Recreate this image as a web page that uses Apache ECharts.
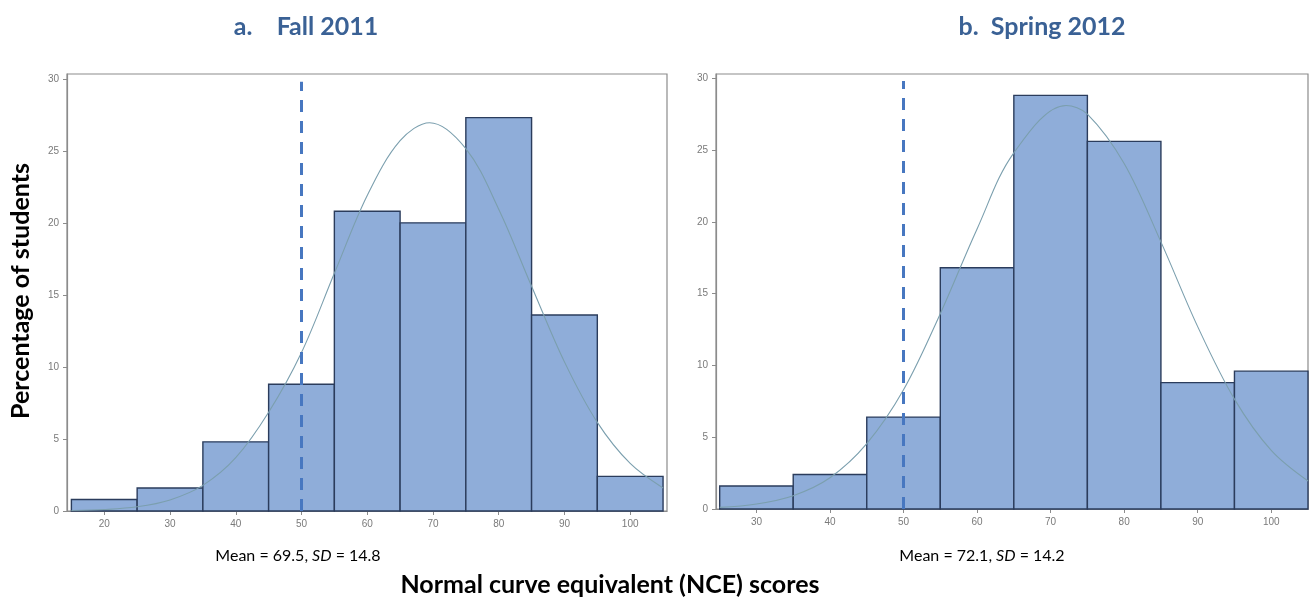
<!DOCTYPE html>
<html>
<head>
<meta charset="utf-8">
<script src="https://cdn.jsdelivr.net/npm/echarts@6/dist/echarts.min.js"></script>
<style>
html,body{margin:0;padding:0;background:#fff;}
#chart{width:1309px;height:608px;}
</style>
</head>
<body>
<div id="chart"></div>
<script>
// ---- Data ----
const titleA = 'a.    Fall 2011';
const titleB = 'b.  Spring 2012';
const yAxisTitle = 'Percentage of students';
const xAxisTitle = 'Normal curve equivalent (NCE) scores';
const statsA = ['Mean = 69.5, ', 'SD', ' = 14.8'];
const statsB = ['Mean = 72.1, ', 'SD', ' = 14.2'];

const binWidth = 10;
const binStartsA = [15, 25, 35, 45, 55, 65, 75, 85, 95];
const percentA   = [0.8, 1.6, 4.8, 8.8, 20.8, 20.0, 27.3, 13.6, 2.4];
const binStartsB = [25, 35, 45, 55, 65, 75, 85, 95];
const percentB   = [1.6, 2.4, 6.4, 16.8, 28.8, 25.6, 8.8, 9.6];

// normal curve readings (x, percent)
const curveXA = [15, 20, 25, 30, 35, 40, 45, 50, 55, 60, 65, 69.5, 75, 80, 85, 90, 95, 100, 105];
const curveYA = [0.03, 0.10, 0.29, 0.77, 1.78, 3.70, 6.85, 11.0, 16.5, 21.9, 25.7, 26.95, 25.15, 20.95, 15.6, 10.35, 6.15, 3.3, 1.6];
const curveXB = [25, 30, 35, 40, 45, 50, 55, 60, 65, 72.1, 75, 80, 85, 90, 95, 100, 105];
const curveYB = [0.11, 0.35, 0.93, 2.18, 4.55, 8.3, 13.6, 19.5, 24.8, 28.1, 27.5, 24.06, 18.6, 12.7, 7.65, 4.08, 1.95];

const refLineX = 50;          // dashed reference line (NCE = 50)
const refLineTop = 29.8;
const yTicks = [0, 5, 10, 15, 20, 25, 30];
const xTicksA = [20, 30, 40, 50, 60, 70, 80, 90, 100];
const xTicksB = [30, 40, 50, 60, 70, 80, 90, 100];

// ---- Styles ----
const barFill = '#8fadd9';
const barEdge = '#2b3c5c';
const curveColor = '#7b9fae';
const dashColor = '#4777c0';
const titleColor = '#3a6195';
const tickLabel = {color: '#7a7a7a', fontSize: 10, fontFamily: 'Liberation Sans'};
const axisLine = {show: true, lineStyle: {color: '#8c8c8c', width: 1.2}};

function pairs(xs, ys){ return xs.map((x,i)=>[x, ys[i]]); }
function bins(starts, vals){ return starts.map((s,i)=>[s, s+binWidth, vals[i]]); }

function histSeries(idx, data){
  return {
    type: 'custom', xAxisIndex: idx, yAxisIndex: idx, data: data,
    renderItem: function(params, api){
      const p0 = api.coord([api.value(0), api.value(2)]);
      const p1 = api.coord([api.value(1), 0]);
      return {type: 'rect', shape: {x: p0[0], y: p0[1], width: p1[0]-p0[0], height: p1[1]-p0[1]},
        style: {fill: barFill, stroke: barEdge, lineWidth: 1.4}};
    },
    encode: {x: [0, 1], y: 2}, z: 2
  };
}
function curveSeries(idx, data){
  return {type: 'line', xAxisIndex: idx, yAxisIndex: idx, data: data, smooth: 0.35, showSymbol: false,
    lineStyle: {color: curveColor, width: 1.1}, z: 3, silent: true};
}
function refSeries(idx){
  return {type: 'line', xAxisIndex: idx, yAxisIndex: idx, data: [[refLineX, 0], [refLineX, refLineTop]],
    showSymbol: false, lineStyle: {color: dashColor, width: 3, type: [12, 9]}, z: 4, silent: true};
}
function xAx(idx, min, max, ticks){
  return {type: 'value', gridIndex: idx, min: min, max: max, splitLine: {show: false},
    axisLine: axisLine, axisTick: {show: true, length: 4, lineStyle: {color: '#8c8c8c'}, customValues: ticks},
    axisLabel: Object.assign({margin: 8, customValues: ticks}, tickLabel)};
}
function yAx(idx, max){
  return {type: 'value', gridIndex: idx, min: 0, max: max, splitLine: {show: false},
    axisLine: axisLine, axisTick: {show: true, length: 4, lineStyle: {color: '#8c8c8c'}, customValues: yTicks},
    axisLabel: Object.assign({margin: 8, customValues: yTicks}, tickLabel)};
}

const chart = echarts.init(document.getElementById('chart'), null, {renderer: 'canvas'});
chart.setOption({
  backgroundColor: '#fff',
  animation: false,
  title: [
    {text: titleA, left: 301, top: 9, textAlign: 'center',
     textStyle: {color: titleColor, fontSize: 25, fontWeight: 'bold', fontFamily: 'Lato'}},
    {text: titleB, left: 1037, top: 9, textAlign: 'center',
     textStyle: {color: titleColor, fontSize: 25, fontWeight: 'bold', fontFamily: 'Lato'}}
  ],
  grid: [
    {left: 67, right: 642, top: 74, bottom: 97, show: true, borderColor: '#8c8c8c', borderWidth: 1.2, backgroundColor: '#fff'},
    {left: 716, right: 1, top: 74, bottom: 99, show: true, borderColor: '#8c8c8c', borderWidth: 1.2, backgroundColor: '#fff'}
  ],
  xAxis: [xAx(0, 14.33, 105.6, xTicksA), xAx(1, 24.5, 105, xTicksB)],
  yAxis: [yAx(0, 30.33), yAx(1, 30.29)],
  series: [
    histSeries(0, bins(binStartsA, percentA)),
    curveSeries(0, pairs(curveXA, curveYA)),
    refSeries(0),
    histSeries(1, bins(binStartsB, percentB)),
    curveSeries(1, pairs(curveXB, curveYB)),
    refSeries(1)
  ],
  graphic: [
    {type: 'text', x: 21, y: 291, rotation: Math.PI/2, style: {text: yAxisTitle, fill: '#000',
      font: 'bold 25px Lato', textAlign: 'center', textVerticalAlign: 'middle'}},
    {type: 'text', x: 298, y: 556, style: {text: statsA[0] + '{i|' + statsA[1] + '}' + statsA[2], fill: '#000',
      font: '16px Lato', textAlign: 'center', textVerticalAlign: 'middle',
      rich: {i: {fontStyle: 'italic', fontSize: 16, fontFamily: 'Lato', fill: '#000'}}}},
    {type: 'text', x: 982, y: 556, style: {text: statsB[0] + '{i|' + statsB[1] + '}' + statsB[2], fill: '#000',
      font: '16px Lato', textAlign: 'center', textVerticalAlign: 'middle',
      rich: {i: {fontStyle: 'italic', fontSize: 16, fontFamily: 'Lato', fill: '#000'}}}},
    {type: 'text', x: 610, y: 585, style: {text: xAxisTitle, fill: '#000',
      font: 'bold 25px Lato', textAlign: 'center', textVerticalAlign: 'middle'}}
  ]
});
</script>
</body>
</html>
